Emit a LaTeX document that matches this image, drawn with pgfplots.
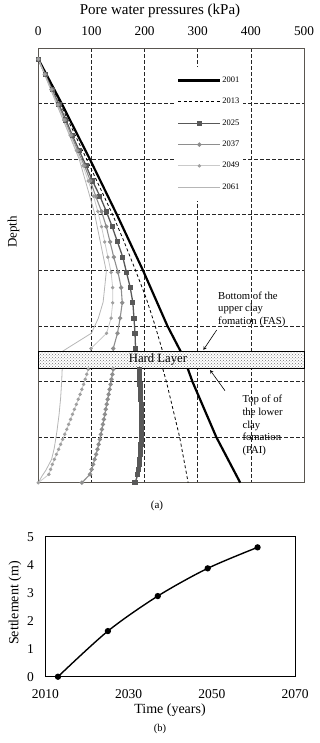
\documentclass[border=0pt]{standalone}
\usepackage{pgfplots}
\pgfplotsset{compat=1.18}
\usepackage{fontspec}
\setmainfont{Liberation Serif}
\usetikzlibrary{patterns}
\definecolor{c25}{HTML}{585858}
\definecolor{c37}{HTML}{8E8E8E}
\definecolor{c49l}{HTML}{CACACA}
\definecolor{c49m}{HTML}{A0A0A0}
\definecolor{c61}{HTML}{B6B6B6}
\definecolor{frm}{HTML}{5A5650}
\begin{document}
\begin{tikzpicture}
\path[use as bounding box] (0,0) rectangle (320pt,-743pt);
\begin{axis}[
  at={(38.3pt,-48pt)}, anchor=north west, scale only axis,
  width=265.7pt, height=434.7pt,
  xmin=0, xmax=500, ymin=0, ymax=78.2, y dir=reverse,
  xtick={0,100,...,500}, ytick={10,20,...,70}, yticklabels={},
  xticklabel pos=right,
  grid=major,
  major grid style={black!85, line width=0.7pt, dash pattern=on 3.5pt off 2.5pt},
  major tick length=0pt,
  axis line style={frm, line width=0.9pt},
  tick label style={font=\fontsize{13.3}{15}\selectfont},
  xticklabel style={yshift=9pt},
  /pgf/number format/assume math mode=true,
  clip=false,
  legend style={at={(axis description cs:0.511,0.957)}, anchor=north west,
    draw=none, fill=white, font=\fontsize{8.5}{10}\selectfont,
    inner xsep=3pt, inner ysep=9pt, row sep=12.2pt,
    nodes={inner sep=1pt}},
  legend cell align=left,
  legend image code/.code={\draw[mark repeat=2,mark phase=2,#1] plot coordinates {(0pt,0pt) (21pt,0pt) (42pt,0pt)};},
]
% 2001
\addplot[black, line width=2.2pt] table {
0 2
44 10
97 20
148 30
197 40
243 50
268 54.6
281 57.6
290 60
335 70
380 78.2
};
\addlegendentry{2001}
% 2013
\addplot[black, line width=0.8pt, dash pattern=on 3pt off 2.5pt] table {
0 2
41 10
91 20
140 30
160 34.5
183 40
203 45
220 50
234 54.6
234 57.6
241 60
266 70
282 78.2
};
\addlegendentry{2013}
% 2025
\addplot[c25, line width=1.3pt, mark=square*, mark size=1.9pt, mark options={solid, fill=c25}] table {
0 2
13 4.74
26 7.48
39 10.22
52 12.96
64 15.7
77 18.44
90 21.18
102 23.92
116 26.66
128 29.4
139 32.14
149 34.88
159 37.62
166 40.36
173 43.1
178 45.84
180 48.58
182 51.32
183 54.06
190 57.8
190.4 58.7
190.8 59.6
191.3 60.5
192 61.4
192.5 62.3
193 63.2
193.4 64.1
193.7 65.0
194 65.9
194 66.8
194 67.7
194 68.6
194 69.5
193.7 70.4
193.2 71.3
192.5 72.2
192 73.1
191 74.0
190 74.9
189 75.8
187.5 76.7
182 78.2
};
\addlegendentry{2025}
% 2037
\addplot[c37, line width=1.1pt, mark=*, mark size=1.6pt, mark options={solid, fill=c37}] table {
0 2
12.5 4.74
25 7.48
37.5 10.22
50 12.96
62 15.7
74 18.44
87 21.18
98 23.92
108 26.66
119 29.4
128 32.14
135 34.88
142 37.62
150 40.36
156 43.1
158 45.84
154 48.58
149 51.32
141 54.06
141 57.8
139.4 58.7
137.7 59.6
136 60.5
134.2 61.4
132.4 62.3
130.6 63.2
128.8 64.1
127 65.0
125.2 65.9
123.4 66.8
121.6 67.7
119.8 68.6
117.8 69.5
115.7 70.4
113.6 71.3
111.4 72.2
108.7 73.1
106 74.0
103.3 74.9
100.3 75.8
97.3 76.7
82 78.2
};
\addlegendentry{2037}
% 2049
\addplot[c49l, line width=0.8pt, mark=*, mark size=1.3pt, mark options={solid, draw=c49m, fill=c49m}] table {
0 2
12 4.74
24 7.48
36 10.22
48 12.96
60 15.7
72 18.44
84 21.18
94 23.92
104 26.66
112 29.4
119 32.14
125 34.88
131 37.62
137 40.36
140 43.1
140 45.84
137 48.58
128.5 51.32
99 54.06
94 57.8
91.1 58.7
88.3 59.6
85.2 60.5
81.9 61.4
78.6 62.3
75.2 63.2
71.6 64.1
68 65.0
64.4 65.9
60.8 66.8
57.2 67.7
53.6 68.6
49.8 69.5
45.9 70.4
42 71.3
38.1 72.2
34.2 73.1
30.3 74.0
26.4 74.9
23.2 75.8
20 76.7
0 78.2
};
\addlegendentry{2049}
% 2061
\addplot[c61, line width=0.8pt] table {
0 2
34 10
77 20
105 29.4
117 35
128 40.2
125 43
122 45.7
113 48.6
100 51.3
56.5 53.9
45 54.6
45 57.6
44 60
42 63
39 66
35 69
30 72
25 74
14 76
7 77
0 78.2
};
\addlegendentry{2061}
% hard layer
\fill[white] (axis cs:0,54.6) rectangle (axis cs:500,57.6);
\fill[pattern=crosshatch dots, pattern color=black!55] (axis cs:0,54.6) rectangle (axis cs:500,57.6);
\draw[black, line width=0.9pt] (axis cs:0,54.6) rectangle (axis cs:500,57.6);
\end{axis}
% labels for (a)
\node[font=\fontsize{15}{18}\selectfont] at (160pt,-11pt) {Pore water pressures (kPa)};
\node[rotate=90, font=\fontsize{13}{15}\selectfont] at (13.5pt,-232pt) {Depth};
\node[font=\fontsize{12.7}{15}\selectfont] at (158pt,-359.3pt) {Hard Layer};
\node[anchor=west, align=left, font=\fontsize{10.7}{12.3}\selectfont, inner sep=0pt] at (218pt,-309.3pt) {Bottom of the\\upper clay\\fomation (FAS)};
\draw[black, line width=0.6pt, -stealth] (216.7pt,-330pt) -- (203.3pt,-350pt);
\node[anchor=west, align=left, font=\fontsize{10.7}{12.6}\selectfont, inner sep=0pt] at (242.3pt,-425.5pt) {Top of of\\the lower\\clay\\fomation\\(PAI)};
\draw[black, line width=0.6pt, -stealth] (225pt,-390.7pt) -- (210pt,-370pt);
\node[font=\fontsize{11}{13}\selectfont] at (157pt,-506pt) {(a)};
% (b)
\begin{axis}[
  at={(45.5pt,-536.7pt)}, anchor=north west, scale only axis,
  width=249.5pt, height=140pt,
  xmin=2010, xmax=2070, ymin=0, ymax=5,
  xtick={2010,2030,2050,2070}, ytick={0,1,...,5},
  major tick length=0pt,
  axis line style={black, line width=0.9pt},
  tick label style={font=\fontsize{13.5}{16}\selectfont},
  xticklabel style={yshift=-9pt},
  yticklabel style={xshift=-8pt},
  /pgf/number format/assume math mode=true,
  /pgf/number format/1000 sep={},
  clip=false,
]
\addplot[black, line width=1.4pt, smooth, mark=*, mark size=2.4pt] coordinates {
(2013,0) (2025,1.63) (2037,2.88) (2049,3.87) (2061,4.62)};
\end{axis}
\node[font=\fontsize{14}{16}\selectfont] at (170pt,-710pt) {Time (years)};
\node[rotate=90, font=\fontsize{14}{16}\selectfont] at (15pt,-603pt) {Settlement (m)};
\node[font=\fontsize{10.5}{12}\selectfont] at (160pt,-729pt) {(b)};
\end{tikzpicture}
\end{document}
